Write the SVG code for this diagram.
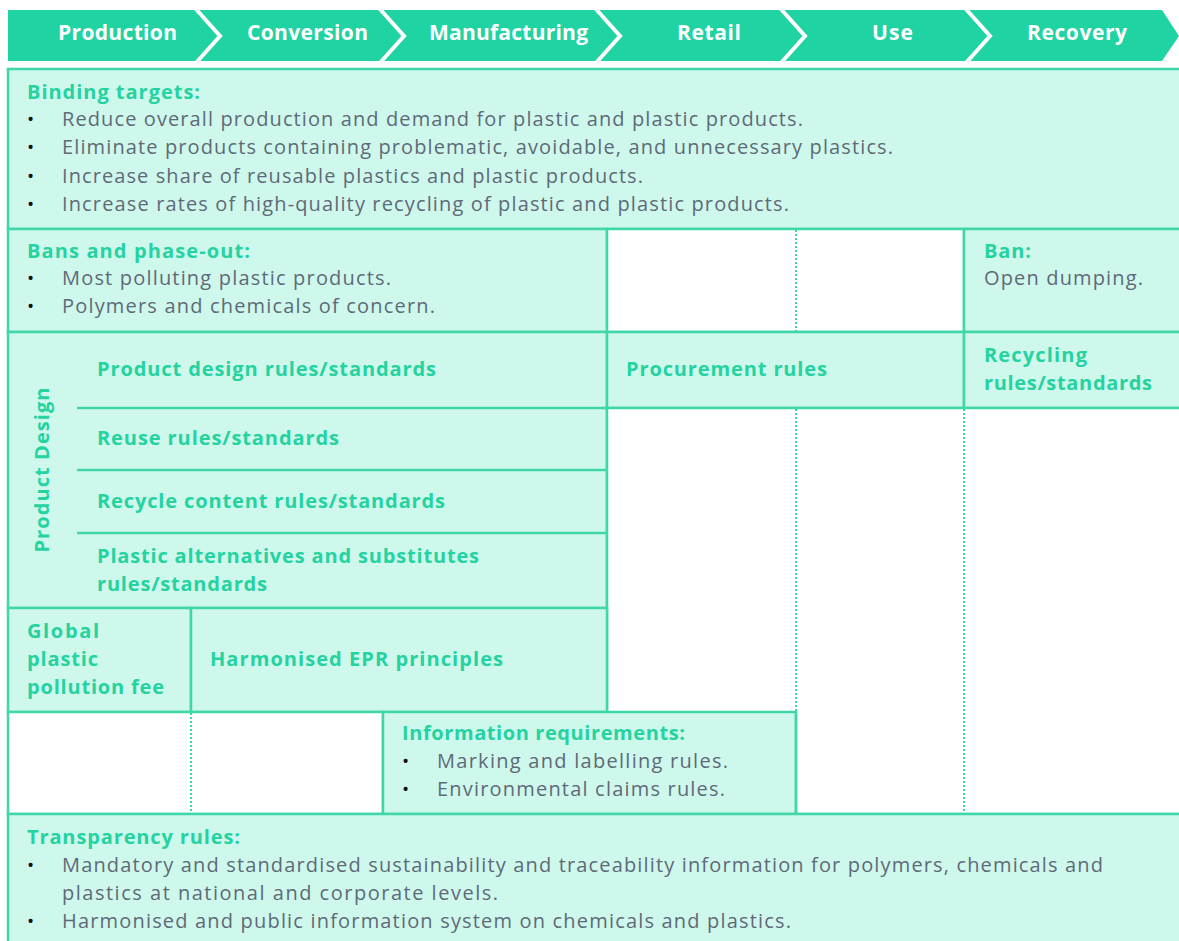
<svg xmlns="http://www.w3.org/2000/svg" width="1179" height="941" viewBox="0 0 1179 941">
  <style>
    .cell { fill: #cff8ec; stroke: #3fd7aa; stroke-width: 2.5; }
    .blank { fill: #ffffff; stroke: #3fd7aa; stroke-width: 2.5; }
    .rule { stroke: #3fd7aa; stroke-width: 2.5; fill: none; }
    .dot { stroke: #3fd7aa; stroke-width: 2; stroke-dasharray: 2 2; fill: none; }
    .sep { stroke: #ffffff; stroke-width: 4; fill: none; stroke-linejoin: miter; }
    .stage { font-family: "Open Sans", "Liberation Sans", sans-serif; font-weight: 700; font-size: 21px; fill: #ffffff; text-anchor: middle; }
    .head { font-family: "Open Sans", "Liberation Sans", sans-serif; font-weight: 700; font-size: 20px; fill: #24d3a0; }
    .body { font-family: "Open Sans", "Liberation Sans", sans-serif; font-size: 20px; fill: #5e6a78; }
    .bul { font-family: "Open Sans", "Liberation Sans", sans-serif; font-size: 19px; fill: #111111; }
  </style>

  <rect width="1179" height="941" fill="#ffffff"/>

  <!-- value chain header -->
  <g id="header">
    <polygon points="8,10 1162,10 1179,36 1162,61 8,61" fill="#1fd3a2"/>
    <polyline class="sep" points="195,8 220,36 195,64"/>
    <polyline class="sep" points="379,8 404,36 379,64"/>
    <polyline class="sep" points="595,8 620,36 595,64"/>
    <polyline class="sep" points="780,8 805,36 780,64"/>
    <polyline class="sep" points="965,8 990,36 965,64"/>
    <text class="stage" x="117.5" y="40" textLength="119" lengthAdjust="spacing">Production</text>
    <text class="stage" x="307.5" y="40" textLength="121" lengthAdjust="spacing">Conversion</text>
    <text class="stage" x="508.5" y="40" textLength="159" lengthAdjust="spacing">Manufacturing</text>
    <text class="stage" x="709" y="40" textLength="64" lengthAdjust="spacing">Retail</text>
    <text class="stage" x="892.5" y="40" textLength="41" lengthAdjust="spacing">Use</text>
    <text class="stage" x="1077" y="40" textLength="100" lengthAdjust="spacing">Recovery</text>
  </g>

  <g id="binding-targets">
    <rect class="cell" x="8" y="69" width="1180" height="160"/>
    <text class="head" x="27" y="99" textLength="173" lengthAdjust="spacing">Binding targets:</text>
    <text class="bul" x="27" y="126">•</text>
    <text class="body" x="62" y="126" textLength="741" lengthAdjust="spacing">Reduce overall production and demand for plastic and plastic products.</text>
    <text class="bul" x="27" y="154">•</text>
    <text class="body" x="62" y="154" textLength="831" lengthAdjust="spacing">Eliminate products containing problematic, avoidable, and unnecessary plastics.</text>
    <text class="bul" x="27" y="183">•</text>
    <text class="body" x="62" y="183" textLength="581" lengthAdjust="spacing">Increase share of reusable plastics and plastic products.</text>
    <text class="bul" x="27" y="211">•</text>
    <text class="body" x="62" y="211" textLength="727" lengthAdjust="spacing">Increase rates of high-quality recycling of plastic and plastic products.</text>
  </g>

  <g id="bans">
    <rect class="cell" x="8" y="229" width="599" height="103"/>
    <text class="head" x="27" y="258" textLength="223" lengthAdjust="spacing">Bans and phase-out:</text>
    <text class="bul" x="27" y="285">•</text>
    <text class="body" x="62" y="285" textLength="329" lengthAdjust="spacing">Most polluting plastic products.</text>
    <text class="bul" x="27" y="313">•</text>
    <text class="body" x="62" y="313" textLength="373" lengthAdjust="spacing">Polymers and chemicals of concern.</text>
  </g>

  <g id="bans-blank">
    <rect class="blank" x="607" y="229" width="357" height="103"/>
  </g>

  <g id="ban-dumping">
    <rect class="cell" x="964" y="229" width="224" height="103"/>
    <text class="head" x="984" y="258" textLength="47" lengthAdjust="spacing">Ban:</text>
    <text class="body" x="984" y="285" textLength="159" lengthAdjust="spacing">Open dumping.</text>
  </g>

  <g id="product-design">
    <rect class="cell" x="8" y="332" width="599" height="276"/>
    <text class="head" x="0" y="0" transform="translate(49,470) rotate(-90)" text-anchor="middle" textLength="165" lengthAdjust="spacing">Product Design</text>
    <line class="rule" x1="77" y1="408" x2="607" y2="408"/>
    <line class="rule" x1="77" y1="470" x2="607" y2="470"/>
    <line class="rule" x1="77" y1="533" x2="607" y2="533"/>
    <text class="head" x="97" y="376" textLength="339" lengthAdjust="spacing">Product design rules/standards</text>
    <text class="head" x="97" y="445" textLength="242" lengthAdjust="spacing">Reuse rules/standards</text>
    <text class="head" x="97" y="508" textLength="348" lengthAdjust="spacing">Recycle content rules/standards</text>
    <text class="head" x="97" y="563" textLength="382" lengthAdjust="spacing">Plastic alternatives and substitutes</text>
    <text class="head" x="97" y="591" textLength="170" lengthAdjust="spacing">rules/standards</text>
  </g>

  <g id="procurement">
    <rect class="cell" x="607" y="332" width="357" height="76"/>
    <text class="head" x="626" y="376" textLength="201" lengthAdjust="spacing">Procurement rules</text>
  </g>

  <g id="recycling">
    <rect class="cell" x="964" y="332" width="224" height="76"/>
    <text class="head" x="984" y="362" textLength="103" lengthAdjust="spacing">Recycling</text>
    <text class="head" x="984" y="390" textLength="168" lengthAdjust="spacing">rules/standards</text>
  </g>

  <g id="right-blank">
    <rect class="blank" x="607" y="408" width="581" height="406"/>
  </g>

  <g id="pollution-fee">
    <rect class="cell" x="8" y="608" width="183" height="104"/>
    <text class="head" x="27" y="638" textLength="72" lengthAdjust="spacing">Global</text>
    <text class="head" x="27" y="666" textLength="71" lengthAdjust="spacing">plastic</text>
    <text class="head" x="27" y="694" textLength="137" lengthAdjust="spacing">pollution fee</text>
  </g>

  <g id="epr">
    <rect class="cell" x="191" y="608" width="416" height="104"/>
    <text class="head" x="210" y="666" textLength="293" lengthAdjust="spacing">Harmonised EPR principles</text>
  </g>

  <g id="left-blank">
    <rect class="blank" x="8" y="712" width="375" height="102"/>
  </g>

  <g id="information">
    <rect class="cell" x="383" y="712" width="413" height="102"/>
    <text class="head" x="402" y="740" textLength="283" lengthAdjust="spacing">Information requirements:</text>
    <text class="bul" x="402" y="768">•</text>
    <text class="body" x="437" y="768" textLength="291" lengthAdjust="spacing">Marking and labelling rules.</text>
    <text class="bul" x="402" y="796">•</text>
    <text class="body" x="437" y="796" textLength="288" lengthAdjust="spacing">Environmental claims rules.</text>
  </g>

  <g id="transparency">
    <rect class="cell" x="8" y="814" width="1180" height="140"/>
    <text class="head" x="27" y="844" textLength="213" lengthAdjust="spacing">Transparency rules:</text>
    <text class="bul" x="27" y="872">•</text>
    <text class="body" x="62" y="872" textLength="1041" lengthAdjust="spacing">Mandatory and standardised sustainability and traceability information for polymers, chemicals and</text>
    <text class="body" x="62" y="900" textLength="436" lengthAdjust="spacing">plastics at national and corporate levels.</text>
    <text class="bul" x="27" y="928">•</text>
    <text class="body" x="62" y="928" textLength="729" lengthAdjust="spacing">Harmonised and public information system on chemicals and plastics.</text>
  </g>

  <!-- dotted stage dividers -->
  <g id="connectors">
    <line class="dot" x1="796" y1="230" x2="796" y2="331"/>
    <line class="dot" x1="796" y1="409" x2="796" y2="711"/>
    <line class="dot" x1="964" y1="409" x2="964" y2="813"/>
    <line class="dot" x1="191" y1="713" x2="191" y2="813"/>
    <line class="rule" x1="796" y1="712" x2="796" y2="814"/>
  </g>
</svg>
